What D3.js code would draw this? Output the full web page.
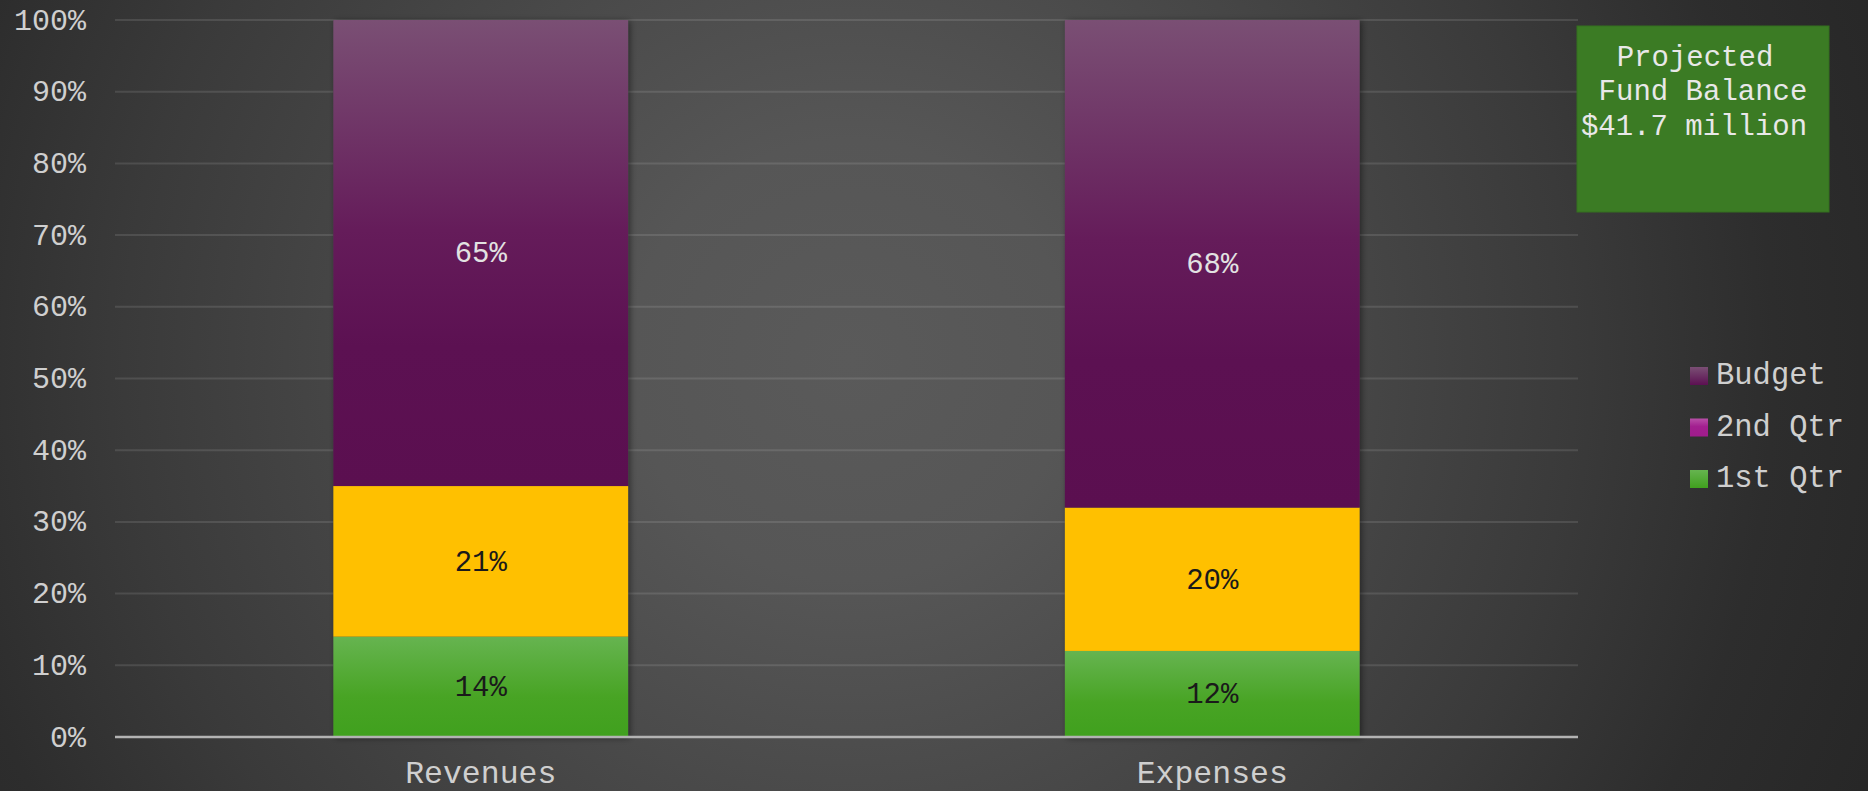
<!DOCTYPE html>
<html>
<head>
<meta charset="utf-8">
<script src="https://cdn.jsdelivr.net/npm/d3@7"></script>
<style>
  html, body { margin: 0; padding: 0; background: #2b2b2b; }
  svg { display: block; }
  text { font-family: "Liberation Mono", "Courier New", monospace; }
</style>
</head>
<body>
<svg id="chart" width="1868" height="791"></svg>
<script>
// Share of each category, stacked bottom to top
const categories = ["Revenues", "Expenses"];
const seriesNames = ["1st Qtr", "2nd Qtr", "Budget"];
const firstQtr = [14, 12];
const secondQtr = [21, 20];
const budget = [65, 68];
const yTicks = [0, 10, 20, 30, 40, 50, 60, 70, 80, 90, 100];
const legendOrder = ["Budget", "2nd Qtr", "1st Qtr"];
const boxLines = ["Projected", "Fund Balance", "$41.7 million"];

const W = 1868, H = 791;
const margin = { left: 115, right: 290, top: 20, bottom: 54 };
const svg = d3.select("#chart");
const defs = svg.append("defs");

// Background vignette
const bg = defs.append("radialGradient").attr("id", "bg")
  .attr("gradientUnits", "userSpaceOnUse")
  .attr("cx", 850).attr("cy", 360).attr("r", 1100);
[["0%", "#5a5a5a"], ["20%", "#565656"], ["30%", "#505050"], ["48%", "#454545"],
 ["66%", "#3a3a3a"], ["84%", "#2d2d2d"], ["100%", "#272727"]]
  .forEach(([o, c]) => bg.append("stop").attr("offset", o).attr("stop-color", c));
svg.append("rect").attr("width", W).attr("height", H).attr("fill", "url(#bg)");

function vGrad(id, stops) {
  const g = defs.append("linearGradient").attr("id", id)
    .attr("x1", 0).attr("y1", 0).attr("x2", 0).attr("y2", 1);
  stops.forEach(([o, c]) => g.append("stop").attr("offset", o).attr("stop-color", c));
}
vGrad("gBudget", [["0%", "#7a4f74"], ["45%", "#651c5a"], ["70%", "#5c1152"], ["100%", "#5b0f50"]]);
vGrad("gQ1", [["0%", "#66b450"], ["60%", "#48a424"], ["100%", "#40a01e"]]);
vGrad("gLegBudget", [["0%", "#7a4f74"], ["100%", "#5c1052"]]);
vGrad("gLegQ2", [["0%", "#b84fa8"], ["45%", "#a21f8f"], ["100%", "#a01c8c"]]);
vGrad("gLegQ1", [["0%", "#66b450"], ["100%", "#40a01e"]]);

const shadow = defs.append("filter").attr("id", "shadow")
  .attr("x", "-10%").attr("y", "-5%").attr("width", "120%").attr("height", "110%");
shadow.append("feDropShadow").attr("dx", 2).attr("dy", 1).attr("stdDeviation", 3)
  .attr("flood-color", "#000").attr("flood-opacity", 0.45);

const fills = { "1st Qtr": "url(#gQ1)", "2nd Qtr": "#ffc000", "Budget": "url(#gBudget)" };
const labelColors = { "1st Qtr": "#1a1a1a", "2nd Qtr": "#1a1a1a", "Budget": "#e2e2e2" };
const legendFills = { "Budget": "url(#gLegBudget)", "2nd Qtr": "url(#gLegQ2)", "1st Qtr": "url(#gLegQ1)" };
const textColor = "#cfcfcf";

const x = d3.scaleBand().domain(categories)
  .range([margin.left, W - margin.right])
  .paddingInner(0.597).paddingOuter(0.2985);
const y = d3.scaleLinear().domain([0, 100]).range([H - margin.bottom, margin.top]);

// Gridlines
svg.append("g").selectAll("line").data(yTicks.filter(d => d > 0)).join("line")
  .attr("x1", margin.left).attr("x2", W - margin.right)
  .attr("y1", d => y(d)).attr("y2", d => y(d))
  .attr("stroke", "rgba(255,255,255,0.11)").attr("stroke-width", 2);

// Y axis labels
const yAxis = d3.axisLeft(y).tickValues(yTicks).tickFormat(d => d + "%").tickSize(0).tickPadding(0);
const ya = svg.append("g").attr("transform", `translate(${margin.left - 29},0)`).call(yAxis);
ya.select(".domain").remove();
ya.selectAll("text").attr("fill", textColor).attr("font-size", 30)
  .attr("font-family", "Liberation Mono, Courier New, monospace").attr("dy", "0.3em");

// Stacked data
const rows = categories.map((c, i) => ({ category: c, "1st Qtr": firstQtr[i], "2nd Qtr": secondQtr[i], "Budget": budget[i] }));
const stacked = d3.stack().keys(seriesNames)(rows);

const barsG = svg.append("g");
barsG.append("g").attr("filter", "url(#shadow)")
  .selectAll("rect").data(categories).join("rect")
  .attr("x", d => x(d)).attr("width", x.bandwidth())
  .attr("y", y(100)).attr("height", y(0) - y(100)).attr("fill", "#444");

stacked.forEach(layer => {
  const key = layer.key;
  barsG.append("g").selectAll("rect").data(layer).join("rect")
    .attr("x", d => x(d.data.category))
    .attr("width", x.bandwidth())
    .attr("y", d => y(d[1]))
    .attr("height", d => y(d[0]) - y(d[1]))
    .attr("fill", fills[key]);
  barsG.append("g").selectAll("text").data(layer).join("text")
    .attr("x", d => x(d.data.category) + x.bandwidth() / 2)
    .attr("y", d => (y(d[0]) + y(d[1])) / 2)
    .attr("dy", "0.32em")
    .attr("text-anchor", "middle")
    .attr("font-size", 29)
    .attr("fill", labelColors[key])
    .text(d => (d[1] - d[0]) + "%");
});

// Baseline
svg.append("line")
  .attr("x1", margin.left).attr("x2", W - margin.right)
  .attr("y1", y(0)).attr("y2", y(0))
  .attr("stroke", "#b3b3b3").attr("stroke-width", 2.5);

// Category labels
const xAxis = d3.axisBottom(x).tickSize(0).tickPadding(0);
const xa = svg.append("g").attr("transform", `translate(0,${H - 8})`).call(xAxis);
xa.select(".domain").remove();
xa.selectAll("text").attr("fill", textColor).attr("font-size", 31.5)
  .attr("font-family", "Liberation Mono, Courier New, monospace").attr("dy", 0);

// Legend
const leg = svg.append("g").attr("transform", "translate(1690,367)");
const li = leg.selectAll("g").data(legendOrder).join("g")
  .attr("transform", (d, i) => `translate(0,${i * 51.5})`);
li.append("rect").attr("width", 18).attr("height", 18).attr("fill", d => legendFills[d]);
li.append("text").attr("x", 26).attr("y", 9).attr("dy", "0.27em")
  .attr("font-size", 30.5).attr("fill", textColor).text(d => d);

// Fund balance callout
const box = svg.append("g");
box.append("rect").attr("x", 1577).attr("y", 26).attr("width", 252).attr("height", 186)
  .attr("fill", "#3b7b24").attr("stroke", "#34711f").attr("stroke-width", 1);
const boxCenters = [1695, 1703, 1694];
box.selectAll("text").data(boxLines).join("text")
  .attr("x", (d, i) => boxCenters[i]).attr("y", (d, i) => 65.5 + i * 34.5)
  .attr("text-anchor", "middle").attr("font-size", 29).attr("fill", "#e8e8e8")
  .text(d => d);
</script>
</body>
</html>
